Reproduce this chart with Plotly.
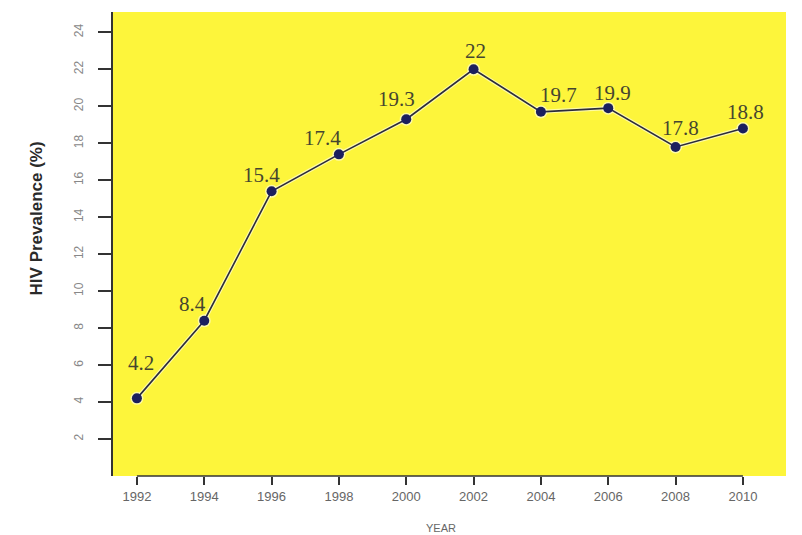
import plotly.graph_objects as go

# HIV prevalence by survey year
years = [1992, 1994, 1996, 1998, 2000, 2002, 2004, 2006, 2008, 2010]
prevalence = [4.2, 8.4, 15.4, 17.4, 19.3, 22, 19.7, 19.9, 17.8, 18.8]
y_ticks = [2, 4, 6, 8, 10, 12, 14, 16, 18, 20, 22, 24]

# pixel offsets of each value label relative to its point (dx, dy)
label_offsets = [(4, 35), (-12, 17), (-10, 16), (-16, 16), (-10, 20),
                 (2, 18), (18, 17), (4, 15), (5, 19), (3, 16)]

YELLOW = "#fdf53b"
AXIS = "#333333"

fig = go.Figure()

# soft light edge under the line
fig.add_trace(go.Scatter(
    x=years, y=prevalence, mode="lines+markers",
    line=dict(color="rgba(255,255,255,0.55)", width=4),
    marker=dict(color="rgba(255,255,255,0.55)", size=13),
    hoverinfo="skip", showlegend=False,
))
fig.add_trace(go.Scatter(
    x=years, y=prevalence, mode="lines+markers",
    line=dict(color="#2b2b3c", width=1.6),
    marker=dict(color="#1b1f5e", size=10),
    showlegend=False,
))

for yr, val, (dx, dy) in zip(years, prevalence, label_offsets):
    fig.add_annotation(
        x=yr, y=val, text=f"{val:g}", showarrow=False,
        xshift=dx, yshift=dy, xanchor="center", yanchor="middle",
        font=dict(family="Liberation Serif, Times New Roman, serif",
                  size=21, color="#45452f"),
    )

# x axis baseline only spans the labelled years
fig.add_shape(type="line", xref="x", yref="paper",
              x0=years[0], x1=years[-1], y0=0, y1=0,
              line=dict(color=AXIS, width=1.5))

fig.add_annotation(
    xref="paper", yref="paper", x=-0.113, y=0.555,
    text="<b>HIV Prevalence (%)</b>", textangle=-90, showarrow=False,
    xanchor="center", yanchor="middle",
    font=dict(family="Liberation Sans, Arial, sans-serif", size=17, color="#2a2a2a"),
)
fig.add_annotation(
    xref="paper", yref="paper", x=0.487, y=-0.111,
    text="YEAR", showarrow=False, xanchor="center", yanchor="middle",
    font=dict(family="Liberation Sans, Arial, sans-serif", size=11, color="#666666"),
)

fig.update_layout(
    width=802, height=535,
    margin=dict(l=113, r=16, t=12, b=59),
    paper_bgcolor="white", plot_bgcolor=YELLOW,
    xaxis=dict(
        range=[1991.29, 2011.28], tickvals=years,
        ticktext=[str(y) for y in years],
        ticks="outside", ticklen=8, tickwidth=1.5, tickcolor=AXIS,
        showline=False, showgrid=False, zeroline=False,
        tickfont=dict(family="Liberation Sans, Arial, sans-serif", size=13, color="#666666"),
    ),
    yaxis=dict(
        range=[0, 25.1], tickvals=y_ticks, ticktext=[str(v) for v in y_ticks],
        ticks="outside", ticklen=13, tickwidth=1.5, tickcolor=AXIS,
        showline=True, linecolor=AXIS, linewidth=1.5,
        showgrid=False, zeroline=False, tickangle=-90, ticklabelstandoff=10,
        tickfont=dict(family="Liberation Sans, Arial, sans-serif", size=12, color="#888888"),
    ),
)

fig.write_html("out.html")
